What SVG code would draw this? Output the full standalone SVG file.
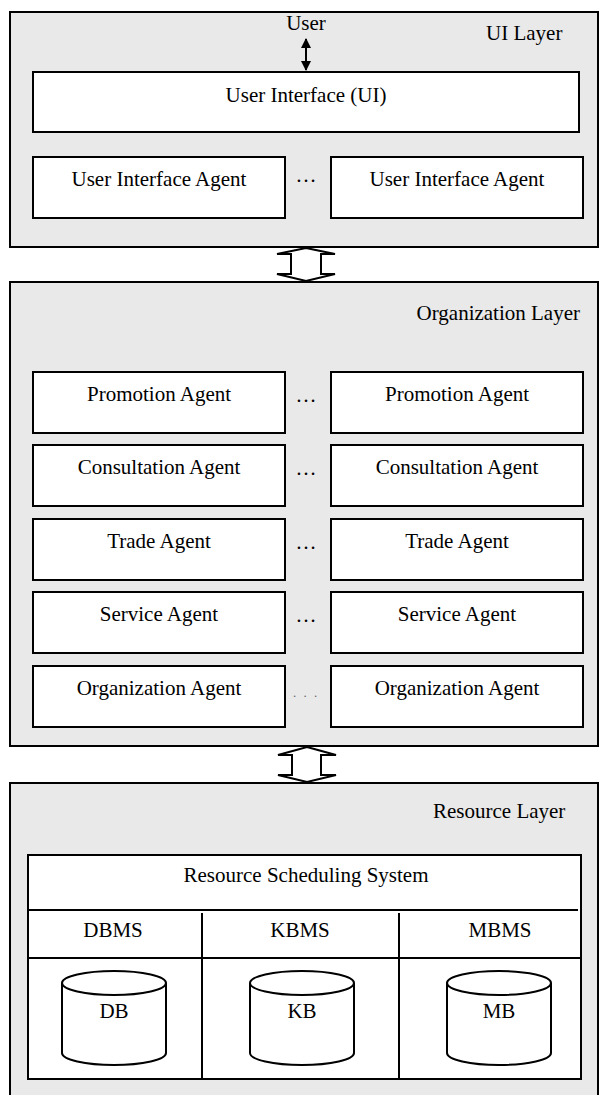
<svg xmlns="http://www.w3.org/2000/svg" width="599" height="1095" viewBox="0 0 599 1095">
<defs>
<style>
.layer{fill:#e9e9e9;stroke:#000;stroke-width:2}
.box{fill:#fff;stroke:#000;stroke-width:2}
.ln{fill:none;stroke:#000;stroke-width:2}
.t{font-family:"Liberation Serif","Times New Roman",serif;font-size:21px;fill:#000}
.m{text-anchor:middle}
.hollow{fill:#fff;stroke:#000;stroke-width:2;stroke-linejoin:miter}
</style>
<marker id="ah" viewBox="0 0 10 10" refX="9" refY="5" markerWidth="10" markerHeight="10" markerUnits="userSpaceOnUse" orient="auto-start-reverse">
<path d="M0,0 L10,5 L0,10 Z" fill="#000"/>
</marker>
</defs>
<rect width="599" height="1095" fill="#fff"/>

<g id="ui-layer">
<rect class="layer" x="10" y="12" width="588" height="235"/>
<text class="t" x="486" y="40">UI Layer</text>
</g>
<g id="user">
<text class="t m" x="306" y="30">User</text>
</g>
<g id="ui">
<rect class="box" x="33" y="72" width="546" height="60"/>
<text class="t m" x="306" y="102">User Interface (UI)</text>
</g>
<g id="ui-agent-1">
<rect class="box" x="33" y="157" width="252" height="61"/>
<text class="t m" x="159" y="186">User Interface Agent</text>
</g>
<g id="ui-agent-2">
<rect class="box" x="331" y="157" width="252" height="61"/>
<text class="t m" x="457" y="186">User Interface Agent</text>
</g>
<text class="t m" x="306" y="182">…</text>

<g id="org-layer">
<rect class="layer" x="10" y="282" width="588" height="464"/>
<text class="t" x="580" y="320" text-anchor="end">Organization Layer</text>
</g>
<g id="promotion-1"><rect class="box" x="33" y="372" width="252" height="61"/><text class="t m" x="159" y="401">Promotion Agent</text></g>
<g id="promotion-2"><rect class="box" x="331" y="372" width="252" height="61"/><text class="t m" x="457" y="401">Promotion Agent</text></g>
<text class="t m" x="306" y="402">…</text>
<g id="consultation-1"><rect class="box" x="33" y="445" width="252" height="61"/><text class="t m" x="159" y="474">Consultation Agent</text></g>
<g id="consultation-2"><rect class="box" x="331" y="445" width="252" height="61"/><text class="t m" x="457" y="474">Consultation Agent</text></g>
<text class="t m" x="306" y="475">…</text>
<g id="trade-1"><rect class="box" x="33" y="519" width="252" height="61"/><text class="t m" x="159" y="548">Trade Agent</text></g>
<g id="trade-2"><rect class="box" x="331" y="519" width="252" height="61"/><text class="t m" x="457" y="548">Trade Agent</text></g>
<text class="t m" x="306" y="549">…</text>
<g id="service-1"><rect class="box" x="33" y="592" width="252" height="61"/><text class="t m" x="159" y="621">Service Agent</text></g>
<g id="service-2"><rect class="box" x="331" y="592" width="252" height="61"/><text class="t m" x="457" y="621">Service Agent</text></g>
<text class="t m" x="306" y="622">…</text>
<g id="organization-1"><rect class="box" x="33" y="666" width="252" height="61"/><text class="t m" x="159" y="695">Organization Agent</text></g>
<g id="organization-2"><rect class="box" x="331" y="666" width="252" height="61"/><text class="t m" x="457" y="695">Organization Agent</text></g>
<text x="306" y="697" text-anchor="middle" font-family="Liberation Serif, serif" font-size="13" fill="#666" letter-spacing="2">. . .</text>

<g id="resource-layer">
<rect class="layer" x="10" y="783" width="588" height="330"/>
<text class="t" x="433" y="818">Resource Layer</text>
</g>
<g id="rss">
<rect class="box" x="28" y="855" width="553" height="224"/>
<text class="t m" x="306" y="882">Resource Scheduling System</text>
<line class="ln" x1="28" y1="910" x2="578" y2="910"/>
<line class="ln" x1="28" y1="958" x2="581" y2="958"/>
<line class="ln" x1="202" y1="913" x2="202" y2="1079"/>
<line class="ln" x1="399" y1="913" x2="399" y2="1079"/>
</g>
<g id="dbms"><text class="t m" x="113" y="937">DBMS</text></g>
<g id="kbms"><text class="t m" x="300" y="937">KBMS</text></g>
<g id="mbms"><text class="t m" x="500" y="937">MBMS</text></g>
<g id="db">
<path class="box" d="M62,983 L62,1053 A52,12 0 0 0 166,1053 L166,983"/>
<ellipse class="box" cx="114" cy="983" rx="52" ry="12"/>
<text class="t m" x="114" y="1018">DB</text>
</g>
<g id="kb">
<path class="box" d="M250,983 L250,1053 A52,12 0 0 0 354,1053 L354,983"/>
<ellipse class="box" cx="302" cy="983" rx="52" ry="12"/>
<text class="t m" x="302" y="1018">KB</text>
</g>
<g id="mb">
<path class="box" d="M447,983 L447,1053 A52,12 0 0 0 551,1053 L551,983"/>
<ellipse class="box" cx="499" cy="983" rx="52" ry="12"/>
<text class="t m" x="499" y="1018">MB</text>
</g>

<g id="connectors">
<line class="ln" x1="306" y1="39" x2="306" y2="70" marker-start="url(#ah)" marker-end="url(#ah)"/>
<path class="hollow" d="M306,248 L335,254 L321,254 L321,274 L335,274 L306,281 L277,274 L291,274 L291,254 L277,254 Z"/>
<path class="hollow" d="M307,747 L336,755 L321,755 L321,775 L336,775 L307,782 L278,775 L292,775 L292,755 L278,755 Z"/>
</g>
</svg>
